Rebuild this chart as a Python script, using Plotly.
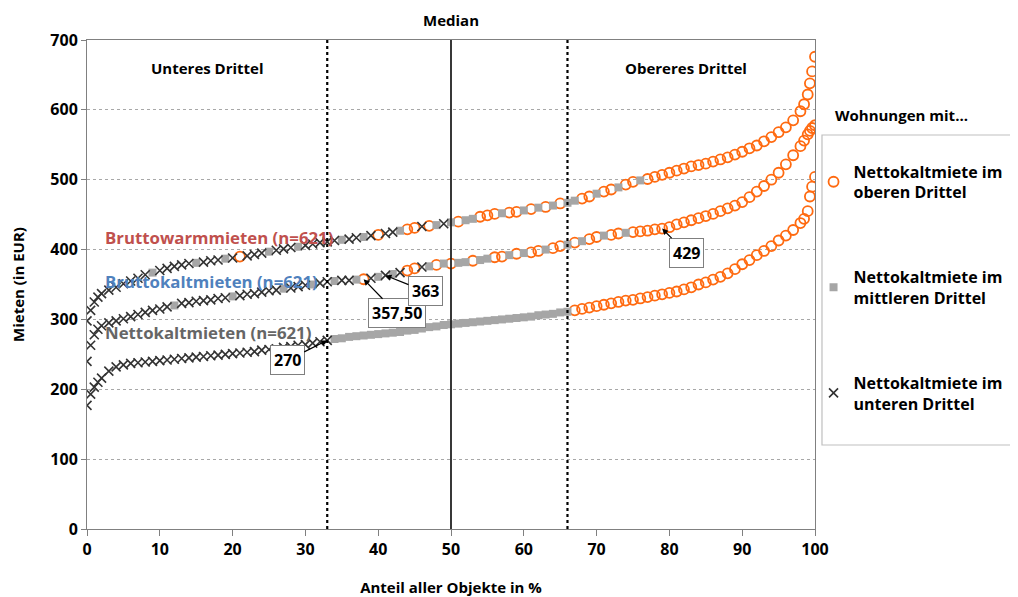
import plotly.graph_objects as go

# Rank position (share of all objects, in %)
PCT = [0, 0.5, 1, 1.5, 2,
       3, 4, 5, 6, 7, 8, 9, 10, 11, 12,
       13, 14, 15, 16, 17, 18, 19, 20, 21, 22,
       23, 24, 25, 26, 27, 28, 29, 30, 31, 32,
       33, 34, 35, 36, 37, 38, 39, 40, 41, 42,
       43, 44, 45, 46, 47, 48, 49, 50, 51, 52,
       53, 54, 55, 56, 57, 58, 59, 60, 61, 62,
       63, 64, 65, 66, 67, 68, 69, 70, 71, 72,
       73, 74, 75, 76, 77, 78, 79, 80, 81, 82,
       83, 84, 85, 86, 87, 88, 89, 90, 91, 92,
       93, 94, 95, 96, 97,
       98, 98.5, 99, 99.3, 99.6, 100]

NETTOKALT = [177, 193, 203, 210, 216,
             226, 232, 235, 237, 238, 239, 240, 241, 242, 243,
             244, 245, 246, 247, 248, 249, 250, 251, 252, 253,
             254, 256, 257, 258, 260, 261, 263, 264, 266, 268,
             270, 272, 273, 275, 276, 277, 278, 279, 280, 281,
             282, 284, 285, 287, 289, 290, 292, 293, 294, 295,
             296, 297, 298, 299, 300, 301, 302, 303, 304, 306,
             307, 308, 310, 311, 313, 315, 317, 319, 321, 323,
             325, 327, 328, 330, 332, 334, 336, 338, 340, 343,
             346, 350, 353, 357, 361, 366, 372, 379, 385, 392,
             398, 405, 413, 420, 428,
             438, 444, 455, 476, 490, 504]

BRUTTOKALT = [240, 263, 278, 286, 291,
              295, 298, 301, 304, 307, 310, 313, 315, 318, 320,
              323, 324, 326, 327, 328, 330, 331, 333, 334, 336,
              337, 339, 341, 342, 344, 345, 347, 349, 350, 352,
              354, 355, 356, 356, 357, 357.5, 359, 361, 363, 365,
              367, 370, 373, 375, 376, 378, 380, 380, 381, 382,
              384, 385, 387, 389, 390, 392, 394, 395, 396, 398,
              400, 402, 405, 407, 410, 412, 415, 418, 420, 421,
              423, 424, 425, 426, 427, 429, 430, 432, 436, 439,
              442, 445, 448, 451, 455, 459, 463, 468, 475, 483,
              491, 500, 510, 522, 535,
              548, 556, 565, 570, 574, 578]

BRUTTOWARM = [298, 313, 325, 332, 337,
              342, 346, 351, 355, 359, 364, 367, 370, 373, 376,
              378, 380, 381, 382, 384, 385, 387, 388, 390, 391,
              393, 395, 397, 399, 401, 403, 404, 406, 408, 410,
              411, 413, 414, 415, 417, 418, 420, 421, 423, 425,
              427, 429, 431, 433, 434, 435, 437, 439, 440, 442,
              444, 447, 449, 451, 452, 453, 454, 456, 458, 460,
              461, 463, 466, 467, 470, 473, 476, 480, 483, 486,
              489, 493, 497, 499, 501, 504, 507, 510, 513, 516,
              519, 521, 523, 526, 529, 532, 536, 540, 545, 549,
              555, 561, 568, 575, 585,
              598, 608, 622, 638, 655, 676]

# Third of the Nettokaltmiete each dwelling belongs to: 0 = unteres, 1 = mittleres, 2 = oberes
NETTOKALT_CAT = ("00000" "0000000000" "0000000000" "0000000000" "0111111111"
                 "1111111111" "1111111111" "1111222222" "2222222222" "2222222222"
                 "22222" "222222")
BRUTTOKALT_CAT = ("00000" "0000000001" "0000000100" "0000100010" "0100120101"
                  "0220121211" "2112212122" "1221212212" "2122222222" "2222222222"
                  "22222" "222222")
BRUTTOWARM_CAT = ("00000" "0000001000" "0010001020" "0010001000" "0010010200"
                  "1220210121" "1222122121" "2121122122" "1221222222" "2222222222"
                  "22222" "222222")

CAT_NAMES = ["Nettokaltmiete im<br>unteren Drittel",
             "Nettokaltmiete im<br>mittleren Drittel",
             "Nettokaltmiete im<br>oberen Drittel"]

THIRD_LINES = [33, 66]
MEDIAN_LINE = 50

CURVE_LABELS = [("Bruttowarmmieten (n=621)", 2.2, 418, "#C0504D"),
                ("Bruttokaltmieten (n=621)", 2.2, 354, "#4F81BD"),
                ("Nettokaltmieten (n=621)", 2.2, 281, "#666666")]

CALLOUTS = [("270", 33, 270, -40, 20),
            ("357,50", 38, 357.5, 33, 34),
            ("363", 41, 363, 40, 16),
            ("429", 79, 430, 24, 24)]

SECTION_LABELS = [("Unteres Drittel", 16.6, 660), ("Obereres Drittel", 82.3, 660)]

FONT = "Open Sans"

series = [(NETTOKALT, NETTOKALT_CAT), (BRUTTOKALT, BRUTTOKALT_CAT), (BRUTTOWARM, BRUTTOWARM_CAT)]

styles = {
    2: dict(symbol="circle-open", size=10, color="#FF6A10", line=dict(width=1.8, color="#FF6A10")),
    1: dict(symbol="square", size=8, color="#A6A6A6", line=dict(width=0)),
    0: dict(symbol="x-thin-open", size=9, color="#333333", line=dict(width=1.6, color="#333333")),
}

fig = go.Figure()
for cat in [2, 1, 0]:
    xs, ys = [], []
    for vals, cats in series:
        for p, v, c in zip(PCT, vals, cats):
            if int(c) == cat:
                xs.append(p)
                ys.append(v)
    fig.add_trace(go.Scatter(
        x=xs, y=ys, mode="markers", name=CAT_NAMES[cat],
        marker=styles[cat], legendgroup=str(cat),
    ))

shapes = []
for t in THIRD_LINES:
    shapes.append(dict(type="line", xref="x", yref="paper", x0=t, x1=t, y0=0, y1=1,
                       line=dict(color="black", width=2.2, dash="dot")))
shapes.append(dict(type="line", xref="x", yref="paper", x0=MEDIAN_LINE, x1=MEDIAN_LINE,
                   y0=0, y1=1, line=dict(color="#222222", width=1.8)))
# legend frame
shapes.append(dict(type="rect", xref="paper", yref="paper", x0=1.0096, x1=1.35,
                   y0=0.1718, y1=0.8057, line=dict(color="#bfbfbf", width=1.2),
                   fillcolor="rgba(0,0,0,0)", layer="below"))

annotations = []
for txt, x, y, col in CURVE_LABELS:
    annotations.append(dict(x=x, y=y, xref="x", yref="y", text="<b>%s</b>" % txt,
                            showarrow=False, xanchor="left", yanchor="middle",
                            font=dict(family=FONT, size=16.8, color=col)))
for txt, x, y, ax, ay in CALLOUTS:
    annotations.append(dict(x=x, y=y, xref="x", yref="y", text="<b>%s</b>" % txt,
                            showarrow=True, ax=ax, ay=ay, arrowhead=2, arrowsize=1,
                            arrowwidth=1.2, arrowcolor="black", bgcolor="white",
                            bordercolor="#7f7f7f", borderwidth=1, borderpad=3,
                            font=dict(family=FONT, size=16, color="black")))
for txt, x, y in SECTION_LABELS:
    annotations.append(dict(x=x, y=y, xref="x", yref="y", text="<b>%s</b>" % txt,
                            showarrow=False, xanchor="center", yanchor="middle",
                            font=dict(family=FONT, size=15, color="black")))
annotations.append(dict(x=MEDIAN_LINE, y=1.0409, xref="x", yref="paper", text="<b>Median</b>",
                        showarrow=False, xanchor="center", yanchor="middle",
                        font=dict(family=FONT, size=15, color="black")))
annotations.append(dict(x=1.1195, y=0.8466, xref="paper", yref="paper",
                        text="<b>Wohnungen mit...</b>", showarrow=False,
                        xanchor="center", yanchor="middle",
                        font=dict(family=FONT, size=15, color="black")))

fig.update_layout(
    width=1018, height=597,
    # the page body adds an 8px offset, compensated here
    margin=dict(l=79, r=211, t=32, b=76, autoexpand=False),
    paper_bgcolor="white", plot_bgcolor="white",
    font=dict(family=FONT, size=15, color="black"),
    shapes=shapes, annotations=annotations,
    legend=dict(x=0.998, y=0.766, xanchor="left", yanchor="top",
                borderwidth=0, bgcolor="rgba(0,0,0,0)",
                font=dict(family=FONT, size=16, color="black", weight="bold"),
                tracegroupgap=61, itemsizing="trace", itemwidth=30),
    xaxis=dict(range=[0, 100], dtick=10, showgrid=False, zeroline=False, automargin=False,
               showline=True, linecolor="#808080", linewidth=1, mirror=True,
               ticks="outside", ticklen=6, tickcolor="#808080",
               tickfont=dict(family=FONT, size=16, weight="bold"),
               title=dict(text="<b>Anteil aller Objekte in %</b>", standoff=23,
                          font=dict(family=FONT, size=15))),
    yaxis=dict(range=[0, 700], dtick=100, showgrid=True, gridcolor="#a8a8a8",
               griddash="dot", gridwidth=1, zeroline=False, automargin=False,
               showline=True, linecolor="#808080", linewidth=1, mirror=True,
               ticks="outside", ticklen=5, tickcolor="#808080",
               tickfont=dict(family=FONT, size=16, weight="bold"),
               title=dict(text="<b>Mieten (in EUR)</b>", standoff=24,
                          font=dict(family=FONT, size=15))),
)

fig.write_html("out.html")
